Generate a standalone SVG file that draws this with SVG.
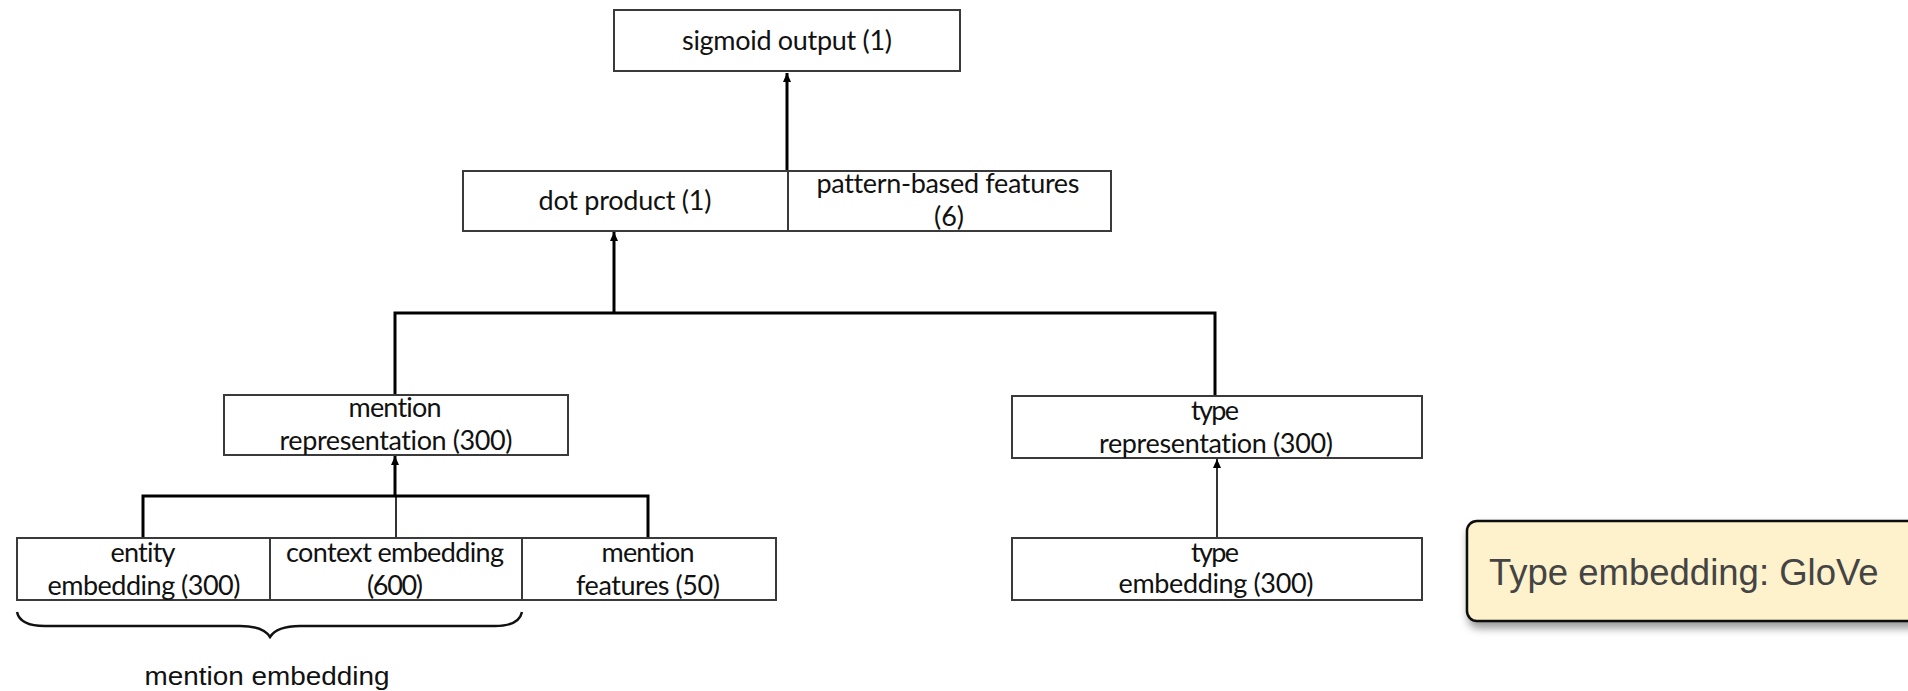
<svg xmlns="http://www.w3.org/2000/svg" width="1908" height="691" viewBox="0 0 1908 691">
  <style>
    .box { fill: #ffffff; stroke: #3a3a3a; stroke-width: 2; }
    .div { stroke: #3a3a3a; stroke-width: 2; fill: none; }
    .lbl { font-family: Lato, "Liberation Sans", sans-serif; font-size: 27px; fill: #111111; text-anchor: middle; font-variant-ligatures: none; }
    .thick { stroke: #000000; stroke-width: 3; fill: none; }
    .thin { stroke: #000000; stroke-width: 1.6; fill: none; }
    .brace { stroke: #111111; stroke-width: 2.5; fill: none; }
    .cap { font-family: "Liberation Sans", Arial, sans-serif; font-size: 26px; fill: #111111; text-anchor: middle; }
    .note { fill: #fdf2cc; stroke: #111111; stroke-width: 2.5; }
    .noteText { font-family: "Liberation Sans", Arial, sans-serif; font-size: 36.5px; fill: #444444; }
  </style>
  <defs>
    <marker id="head" markerUnits="userSpaceOnUse" markerWidth="10" markerHeight="10" refX="9" refY="4" orient="auto">
      <path d="M0,0 L9,4 L0,8 z" fill="#000000"/>
    </marker>
    <filter id="shadow" x="-10%" y="-20%" width="130%" height="160%">
      <feDropShadow dx="2" dy="6" stdDeviation="4" flood-color="#000000" flood-opacity="0.4"/>
    </filter>
  </defs>

  <rect width="1908" height="691" fill="#ffffff"/>

  <!-- connectors -->
  <g id="connectors">
    <path class="thick" d="M787,171 L787,73" marker-end="url(#head)"/>
    <path class="thick" d="M614,313 L614,232" marker-end="url(#head)"/>
    <path class="thick" d="M395,395 L395,313 L1215,313 L1215,396"/>
    <path class="thick" d="M395,496 L395,456" marker-end="url(#head)"/>
    <path class="thin" d="M396,538 L396,496"/>
    <path class="thick" d="M143,538 L143,496 L648,496 L648,538"/>
    <path class="thin" d="M1217,538 L1217,459" marker-end="url(#head)"/>
  </g>

  <!-- sigmoid output -->
  <g id="sigmoid-output">
    <rect class="box" x="614" y="10" width="346" height="61"/>
    <text class="lbl" x="787" y="50" textLength="210" lengthAdjust="spacing">sigmoid output (1)</text>
  </g>

  <!-- dot product + pattern-based features -->
  <g id="dot-product">
    <rect class="box" x="463" y="171" width="648" height="60"/>
    <line class="div" x1="788" y1="171" x2="788" y2="231"/>
    <text class="lbl" x="625" y="210" textLength="173" lengthAdjust="spacing">dot product (1)</text>
  </g>
  <g id="pattern-features">
    <text class="lbl" x="948" y="193" textLength="263" lengthAdjust="spacing">pattern-based features</text>
    <text class="lbl" x="949" y="226">(6)</text>
  </g>

  <!-- mention representation -->
  <g id="mention-representation">
    <rect class="box" x="224" y="395" width="344" height="60"/>
    <text class="lbl" x="395" y="417" textLength="93" lengthAdjust="spacing">mention</text>
    <text class="lbl" x="396" y="450" textLength="233" lengthAdjust="spacing">representation (300)</text>
  </g>

  <!-- type representation -->
  <g id="type-representation">
    <rect class="box" x="1012" y="396" width="410" height="62"/>
    <text class="lbl" x="1215" y="420" textLength="48" lengthAdjust="spacing">type</text>
    <text class="lbl" x="1216" y="453" textLength="234" lengthAdjust="spacing">representation (300)</text>
  </g>

  <!-- input row: entity / context / mention features -->
  <g id="entity-embedding">
    <rect class="box" x="17" y="538" width="759" height="62"/>
    <line class="div" x1="270" y1="538" x2="270" y2="600"/>
    <line class="div" x1="522" y1="538" x2="522" y2="600"/>
    <text class="lbl" x="143" y="562" textLength="65" lengthAdjust="spacing">entity</text>
    <text class="lbl" x="144" y="595" textLength="193" lengthAdjust="spacing">embedding  (300)</text>
  </g>
  <g id="context-embedding">
    <text class="lbl" x="395" y="562" textLength="218" lengthAdjust="spacing">context embedding</text>
    <text class="lbl" x="395" y="595" textLength="56" lengthAdjust="spacing">(600)</text>
  </g>
  <g id="mention-features">
    <text class="lbl" x="648" y="562" textLength="93" lengthAdjust="spacing">mention</text>
    <text class="lbl" x="648" y="595" textLength="144" lengthAdjust="spacing">features (50)</text>
  </g>

  <!-- type embedding -->
  <g id="type-embedding">
    <rect class="box" x="1012" y="538" width="410" height="62"/>
    <text class="lbl" x="1215" y="562" textLength="48" lengthAdjust="spacing">type</text>
    <text class="lbl" x="1216" y="593" textLength="195" lengthAdjust="spacing">embedding  (300)</text>
  </g>

  <!-- brace grouping entity + context -->
  <g id="mention-embedding">
    <path class="brace" d="M17,612 Q20,626 45,626 L240,626 Q263,626 270,637 Q277,626 300,626 L495,626 Q519,626 522,612"/>
    <text class="cap" x="267" y="685" textLength="245" lengthAdjust="spacingAndGlyphs">mention embedding</text>
  </g>

  <!-- side note -->
  <g id="glove-note">
    <rect class="note" x="1467" y="521" width="470" height="100" rx="10" ry="10" filter="url(#shadow)"/>
    <text class="noteText" x="1489" y="585">Type embedding: GloVe</text>
  </g>
</svg>
